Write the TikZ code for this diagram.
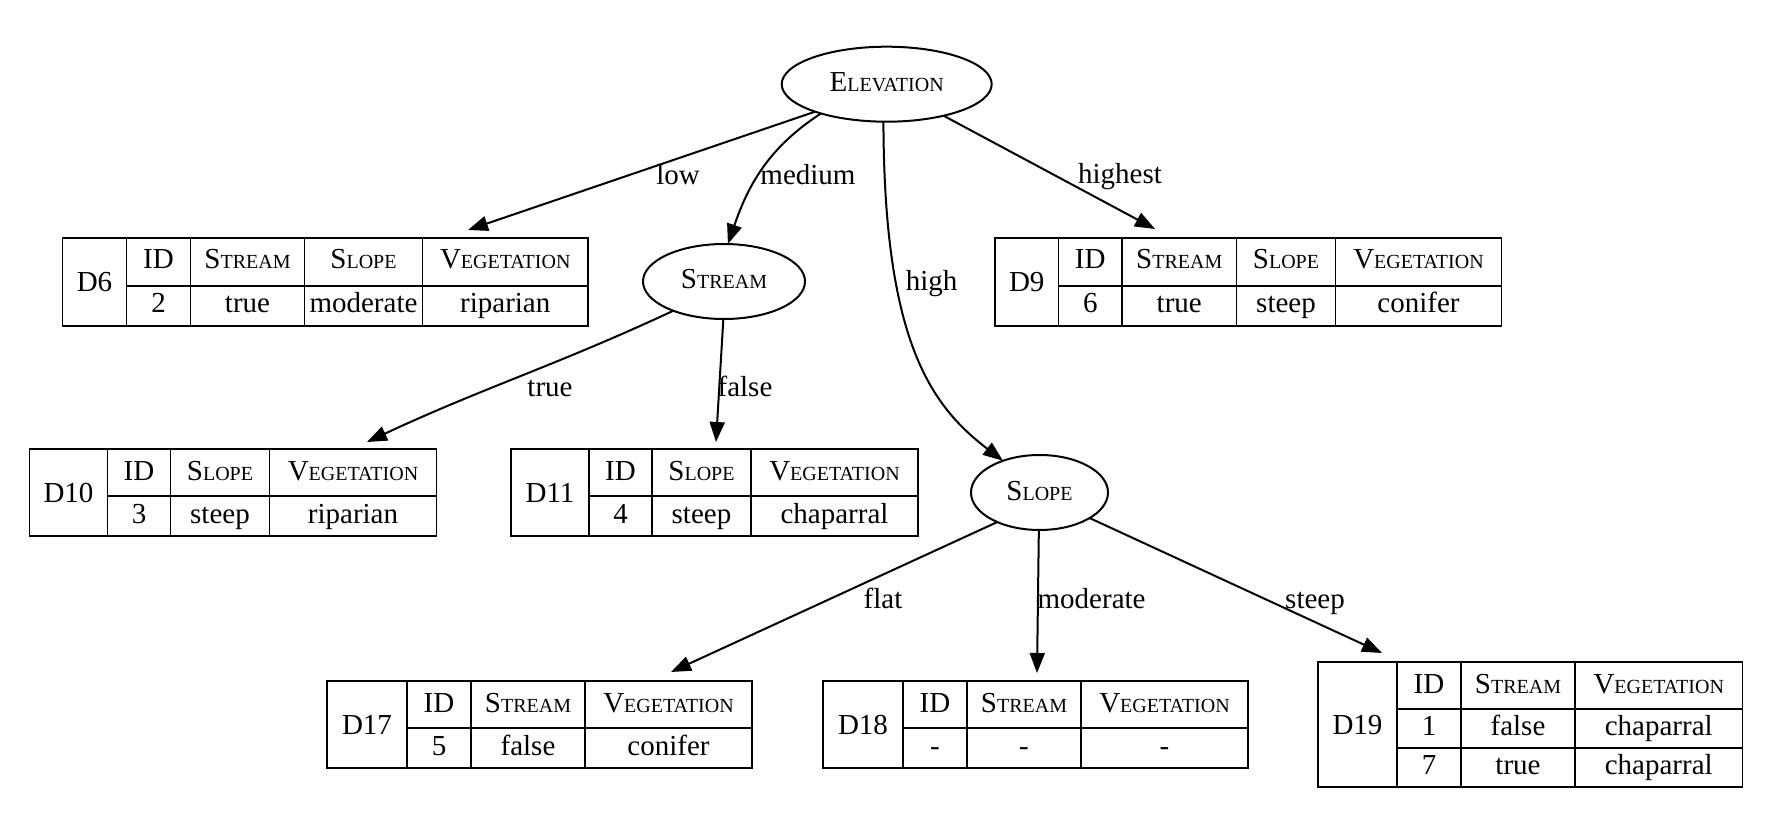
\documentclass[tikz,border=0pt]{standalone}
\usepackage{fontspec}
\setmainfont{Liberation Serif}
\usetikzlibrary{arrows.meta,shapes.geometric}
\newcommand\smc[2]{#1{\fontsize{20}{24}\selectfont #2}}
% name, x1, x2, y1, y2, baseline, text
\newcommand\tcell[7]{\draw[tl] (#2,#4) rectangle (#3,#5); \node[ct] (#1) at ({(#2+#3)/2},#6) {#7};}
\begin{document}
\begin{tikzpicture}[x=1pt,y=-1pt,
  every node/.style={font=\fontsize{29}{34}\selectfont, inner sep=0pt, outer sep=0pt},
  ell/.style={draw, line width=2pt, ellipse, minimum height=75pt, text height=20pt, text depth=5pt},
  tl/.style={line width=1.8pt},
  tframe/.style={draw, line width=1.8pt, anchor=north west},
  ct/.style={anchor=base},
  edge/.style={line width=2pt, -{Triangle[length=20pt,width=15pt]}},
  lbl/.style={anchor=base}]
\useasboundingbox (0,0) rectangle (1786,818);

% decision nodes
\node[ell, minimum width=210pt] (elev) at (886.7,84.2) {\smc{E}{LEVATION}};
\node[ell, minimum width=162pt] (stream) at (724,281.5) {\smc{S}{TREAM}};
\node[ell, minimum width=137pt] (slope) at (1039.5,492.5) {\smc{S}{LOPE}};

% D6
\node[tframe, minimum width=525.5pt, minimum height=88pt] (d6) at (62.5,238) {};
\tcell{d6n}{62.5}{126.5}{238}{326}{291.6}{D6}
\tcell{d6h1}{126.5}{190.5}{238}{286}{269}{ID}
\tcell{d6h2}{190.5}{304.5}{238}{286}{269}{\smc{S}{TREAM}}
\tcell{d6h3}{304.5}{422.5}{238}{286}{269}{\smc{S}{LOPE}}
\tcell{d6h4}{422.5}{588}{238}{286}{269}{\smc{V}{EGETATION}}
\tcell{d6a1}{126.5}{190.5}{286}{326}{313}{2}
\tcell{d6a2}{190.5}{304.5}{286}{326}{313}{true}
\tcell{d6a3}{304.5}{422.5}{286}{326}{313}{moderate}
\tcell{d6a4}{422.5}{588}{286}{326}{313}{riparian}

% D9
\node[tframe, minimum width=506.5pt, minimum height=88pt] (d9) at (995,238) {};
\tcell{d9n}{995}{1058.5}{238}{326}{291.6}{D9}
\tcell{d9h1}{1058.5}{1122}{238}{286}{269}{ID}
\tcell{d9h2}{1122}{1236.5}{238}{286}{269}{\smc{S}{TREAM}}
\tcell{d9h3}{1236.5}{1335.5}{238}{286}{269}{\smc{S}{LOPE}}
\tcell{d9h4}{1335.5}{1501.5}{238}{286}{269}{\smc{V}{EGETATION}}
\tcell{d9a1}{1058.5}{1122}{286}{326}{313}{6}
\tcell{d9a2}{1122}{1236.5}{286}{326}{313}{true}
\tcell{d9a3}{1236.5}{1335.5}{286}{326}{313}{steep}
\tcell{d9a4}{1335.5}{1501.5}{286}{326}{313}{conifer}

% D10
\node[tframe, minimum width=407pt, minimum height=87pt] (d10) at (29.5,449) {};
\tcell{d10n}{29.5}{107.5}{449}{536}{502.1}{D10}
\tcell{d10h1}{107.5}{170.5}{449}{496}{480}{ID}
\tcell{d10h2}{170.5}{269.5}{449}{496}{480}{\smc{S}{LOPE}}
\tcell{d10h3}{269.5}{436.5}{449}{496}{480}{\smc{V}{EGETATION}}
\tcell{d10a1}{107.5}{170.5}{496}{536}{523}{3}
\tcell{d10a2}{170.5}{269.5}{496}{536}{523}{steep}
\tcell{d10a3}{269.5}{436.5}{496}{536}{523}{riparian}

% D11
\node[tframe, minimum width=407pt, minimum height=87pt] (d11) at (511,449) {};
\tcell{d11n}{511}{589}{449}{536}{502.1}{D11}
\tcell{d11h1}{589}{652}{449}{496}{480}{ID}
\tcell{d11h2}{652}{751}{449}{496}{480}{\smc{S}{LOPE}}
\tcell{d11h3}{751}{918}{449}{496}{480}{\smc{V}{EGETATION}}
\tcell{d11a1}{589}{652}{496}{536}{523}{4}
\tcell{d11a2}{652}{751}{496}{536}{523}{steep}
\tcell{d11a3}{751}{918}{496}{536}{523}{chaparral}

% D17
\node[tframe, minimum width=425pt, minimum height=87pt] (d17) at (327,681) {};
\tcell{d17n}{327}{407}{681}{768}{734.1}{D17}
\tcell{d17h1}{407}{471}{681}{728}{712}{ID}
\tcell{d17h2}{471}{585}{681}{728}{712}{\smc{S}{TREAM}}
\tcell{d17h3}{585}{752}{681}{728}{712}{\smc{V}{EGETATION}}
\tcell{d17a1}{407}{471}{728}{768}{755}{5}
\tcell{d17a2}{471}{585}{728}{768}{755}{false}
\tcell{d17a3}{585}{752}{728}{768}{755}{conifer}

% D18
\node[tframe, minimum width=425pt, minimum height=87pt] (d18) at (823,681) {};
\tcell{d18n}{823}{903}{681}{768}{734.1}{D18}
\tcell{d18h1}{903}{967}{681}{728}{712}{ID}
\tcell{d18h2}{967}{1081}{681}{728}{712}{\smc{S}{TREAM}}
\tcell{d18h3}{1081}{1248}{681}{728}{712}{\smc{V}{EGETATION}}
\tcell{d18a1}{903}{967}{728}{768}{755}{-}
\tcell{d18a2}{967}{1081}{728}{768}{755}{-}
\tcell{d18a3}{1081}{1248}{728}{768}{755}{-}

% D19
\node[tframe, minimum width=424.5pt, minimum height=125pt] (d19) at (1318,662) {};
\tcell{d19n}{1318}{1397}{662}{787}{734.1}{D19}
\tcell{d19h1}{1397}{1461}{662}{709}{693}{ID}
\tcell{d19h2}{1461}{1575}{662}{709}{693}{\smc{S}{TREAM}}
\tcell{d19h3}{1575}{1742.5}{662}{709}{693}{\smc{V}{EGETATION}}
\tcell{d19a1}{1397}{1461}{709}{748}{735}{1}
\tcell{d19a2}{1461}{1575}{709}{748}{735}{false}
\tcell{d19a3}{1575}{1742.5}{709}{748}{735}{chaparral}
\tcell{d19b1}{1397}{1461}{748}{787}{774}{7}
\tcell{d19b2}{1461}{1575}{748}{787}{774}{true}
\tcell{d19b3}{1575}{1742.5}{748}{787}{774}{chaparral}

% arrow targets just above the tables
\coordinate (d6in) at (468,230);
\coordinate (d9in) at (1155,229);
\coordinate (d10in) at (367,442);
\coordinate (d11in) at (716,442);
\coordinate (d17in) at (671,672);
\coordinate (d18in) at (1037,673);
\coordinate (d19in) at (1382,653);

% edges
\draw[edge] (elev.201) -- (d6in);
\draw[edge] (elev.204) to[out=213, in=71] (stream.84);
\draw[edge] (elev.265) .. controls (884,340) and (930,405) .. (slope.139);
\draw[edge] (elev.-29) -- (d9in);
\draw[edge] (stream.210) to[out=205, in=25] (d10in);
\draw[edge] (stream.-91) -- (d11in);
\draw[edge] (slope.215) -- (d17in);
\draw[edge] (slope.-91) -- (d18in);
\draw[edge] (slope.-27) -- (d19in);

% edge labels
\node[lbl] (llow) at (678,185) {low};
\node[lbl] (lmed) at (808,185) {medium};
\node[lbl] (lhigh) at (931.7,290.7) {high};
\node[lbl] (lhighest) at (1120,184) {highest};
\node[lbl] (ltrue) at (550,396.7) {true};
\node[lbl] (lfalse) at (745,396.7) {false};
\node[lbl] (lflat) at (883,608) {flat};
\node[lbl] (lmod) at (1091.6,608) {moderate};
\node[lbl] (lsteep) at (1315,608) {steep};
\end{tikzpicture}
\end{document}
